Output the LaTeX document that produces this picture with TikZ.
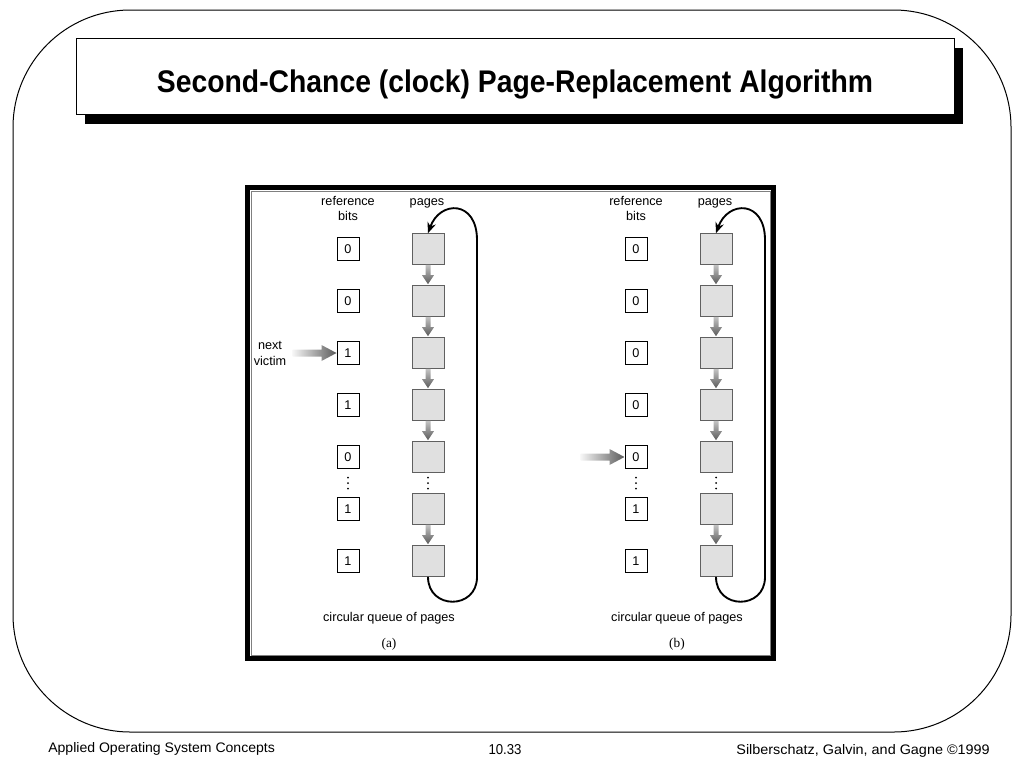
\documentclass[tikz,border=0pt]{standalone}
\usepackage{fontspec}
\setmainfont{Liberation Sans}
\newfontfamily\capfont{Liberation Serif}
\usepackage{xcolor}
\usepackage{graphicx}
\usetikzlibrary{calc}
\usetikzlibrary{arrows.meta}
\usetikzlibrary{shadows}
\definecolor{pagefill}{HTML}{E0E0E0}
\definecolor{pageline}{HTML}{606060}
\definecolor{arrowlight}{HTML}{C4C4C4}
\definecolor{arrowdark}{HTML}{5A5A5A}
\tikzset{ ref_bit/.style = {rectangle, draw, line width=0.75pt, minimum width=16.5pt, minimum height=17pt, inner sep=0pt, font=\fontsize{9.5}{11}\selectfont} }
\tikzset{ page_box/.style = {rectangle, draw=pageline, fill=pagefill, line width=0.75pt, minimum width=24pt, minimum height=23pt, inner sep=0pt} }
\tikzset{ label_txt/.style = {align=center, inner sep=0pt, font=\fontsize{9.5}{11.25}\selectfont} }
\tikzset{ page_arrow/.style = {top color=arrowlight, bottom color=arrowdark} }
\tikzset{ victim_arrow/.style = {left color=white!85!arrowlight, right color=arrowdark} }
\tikzset{ loop_line/.style = {line width=1.4pt, -{Stealth[length=8pt, width=6.5pt]}} }
\tikzset{ title_box/.style = {rectangle, draw, fill=white, line width=0.6pt, minimum width=658.5pt, minimum height=57pt,
    drop shadow={shadow xshift=6.75pt, shadow yshift=-6.75pt, fill=black, opacity=1}} }

\begin{document}
\begin{tikzpicture}[x=0.75pt, y=-0.75pt]
    \useasboundingbox (0,0) rectangle (1024,768);
    % slide frame and title
    \draw[line width=0.75pt, rounded corners=88pt] (13,10) rectangle (1011,732);
    \node [title_box] (tbox) at (515,76.5) {};
    \node [anchor=base, inner sep=0pt] (title) at (515,92)
        {\resizebox{537pt}{17pt}{\bfseries Second-Chance (clock) Page-Replacement Algorithm}};
    % figure frame
    \draw[line width=3.75pt] (247.5,187.5) rectangle (773.5,658.5);
    \draw[line width=0.75pt, gray] (251,191) rectangle (770,655);
    % the two clock panels
    \foreach \p/\dx/\bits/\vrow in {a/0/{0,0,1,1,0,1,1}/3, b/288/{0,0,0,0,0,1,1}/5} {
        \node [label_txt, anchor=base] (rb\p) at (348+\dx, 220) {reference\\bits};
        \node [label_txt, anchor=base] (pg\p) at (427+\dx, 205) {pages};
        \foreach \b [count=\i] in \bits {
            \node [ref_bit] (b\p\i) at (348+\dx, 197+52*\i) {\b};
            \node [page_box] (p\p\i) at (428+\dx, 197+52*\i) {};
        }
        % gap dots
        \coordinate (db\p) at (348+\dx, 483);
        \coordinate (dp\p) at (428+\dx, 483);
        \foreach \k in {-5.5,0,5.5} {
            \fill ($(db\p)+(0,\k)$) circle (1);
            \fill ($(dp\p)+(0,\k)$) circle (1);
        }
        \foreach \i/\j in {1/2,2/3,3/4,4/5,6/7}
            \shade[page_arrow] ($(p\p\i.south)+(-2.5,0)$) -- ($(p\p\i.south)+(2.5,0)$)
                -- ($(p\p\j.north)+(2.5,-10)$) -- ($(p\p\j.north)+(6,-10)$) -- ($(p\p\j.north)+(0,-1)$)
                -- ($(p\p\j.north)+(-6,-10)$) -- ($(p\p\j.north)+(-2.5,-10)$) -- cycle;
        \draw[loop_line] (p\p7.south) .. controls (428+\dx,610) and (477+\dx,610) .. (477+\dx,577)
            -- (477+\dx,240) .. controls (477+\dx,200) and (440+\dx,200) .. (p\p1.north);
        \coordinate (v\p) at ($(b\p\vrow.west)+(-44,0)$);
        \shade[victim_arrow] ($(v\p)+(0,-3.5)$) -- ($(b\p\vrow.west)+(-15,-3.5)$) -- ($(b\p\vrow.west)+(-15,-8)$)
            -- (b\p\vrow.west) -- ($(b\p\vrow.west)+(-15,8)$) -- ($(b\p\vrow.west)+(-15,3.5)$) -- ($(v\p)+(0,3.5)$) -- cycle;
        \node [label_txt] (cq\p) at (389+\dx, 618) {circular queue of pages};
        \node [label_txt, font=\capfont\fontsize{10}{12}\selectfont] (sub\p) at (389+\dx, 644) {(\p)};
    }
    \node [label_txt, font=\fontsize{9.5}{12}\selectfont] (nv) at (270,353) {next\\victim};
    % footer
    \node [anchor=base west, inner sep=0pt] (ftl) at (48,752) {\resizebox{170pt}{7.5pt}{Applied Operating System Concepts}};
    \node [anchor=base, inner sep=0pt] (ftc) at (505,754) {\resizebox{24.75pt}{7.5pt}{10.33}};
    \node [anchor=base east, inner sep=0pt] (ftr) at (990,754) {\resizebox{190pt}{7.5pt}{Silberschatz, Galvin, and Gagne \textcopyright1999}};
\end{tikzpicture}
\end{document}
